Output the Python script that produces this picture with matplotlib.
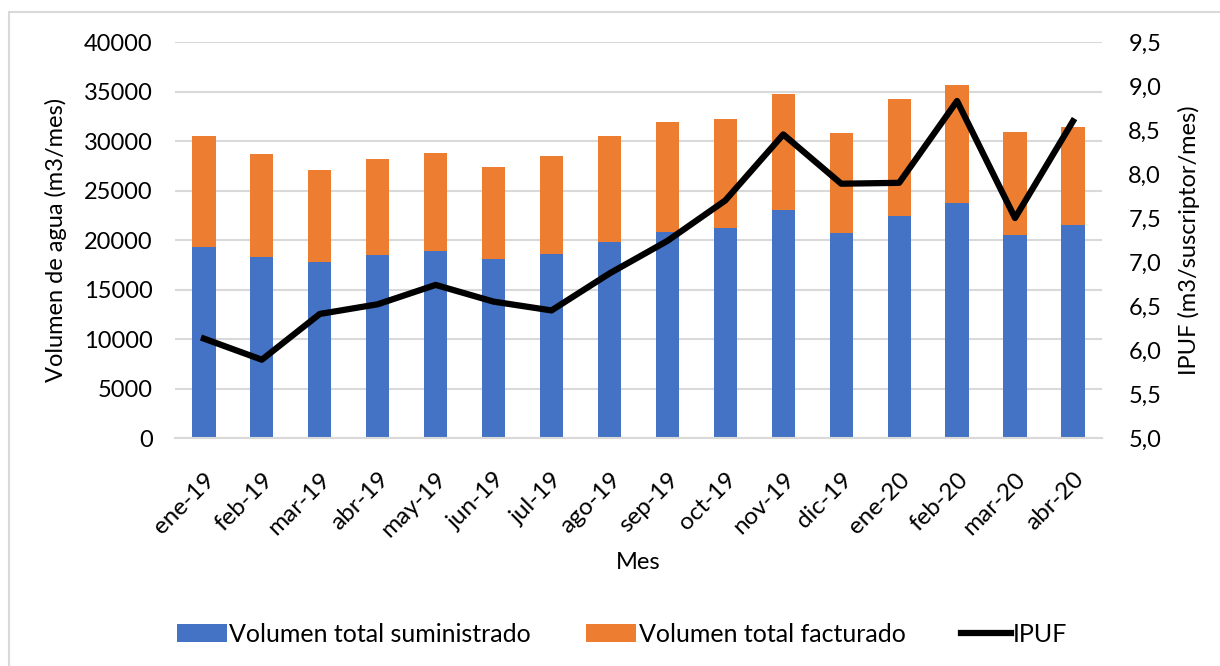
import matplotlib
matplotlib.use("Agg")
import matplotlib.pyplot as plt
from matplotlib.patches import Rectangle
from matplotlib.ticker import FuncFormatter
import numpy as np

plt.rcParams['font.family'] = ['Lato', 'DejaVu Sans']

# Data
meses = ["ene-19", "feb-19", "mar-19", "abr-19", "may-19", "jun-19", "jul-19", "ago-19",
         "sep-19", "oct-19", "nov-19", "dic-19", "ene-20", "feb-20", "mar-20", "abr-20"]
suministrado = [19330, 18250, 17800, 18500, 18900, 18100, 18600, 19800,
                20800, 21200, 23000, 20700, 22450, 23750, 20550, 21500]
facturado = [11170, 10400, 9300, 9700, 9850, 9300, 9900, 10700,
             11100, 11000, 11700, 10100, 11750, 11950, 10350, 9900]
ipuf = [6.13, 5.89, 6.41, 6.52, 6.74, 6.55, 6.45, 6.87,
        7.24, 7.70, 8.45, 7.89, 7.90, 8.83, 7.50, 8.60]

blue = "#4472C4"
orange = "#ED7D31"
grid_c = "#D9D9D9"
fs = 17

fig = plt.figure(figsize=(12.2, 6.66), dpi=100)
fig.patches.append(Rectangle((9 / 1220, -0.01), 1.0, 1 - 12 / 666 + 0.01,
                             transform=fig.transFigure, fill=False,
                             edgecolor=grid_c, linewidth=1.5))

ax = fig.add_axes([0.1434, 0.3423, 0.7598, 0.5946])
x = np.arange(len(meses))
b1 = ax.bar(x, suministrado, width=0.4, color=blue, label="Volumen total suministrado", zorder=2)
b2 = ax.bar(x, facturado, width=0.4, bottom=suministrado, color=orange,
            label="Volumen total facturado", zorder=2)
ax.set_ylim(0, 40000)
ax.set_xlim(-0.5, len(meses) - 0.5)
ax.set_yticks(np.arange(0, 40001, 5000))
ax.yaxis.grid(True, color=grid_c, linewidth=1.5, zorder=0)
ax.set_axisbelow(True)
for s in ["top", "right", "left"]:
    ax.spines[s].set_visible(False)
ax.spines["bottom"].set_color(grid_c)
ax.spines["bottom"].set_linewidth(1.5)
ax.tick_params(axis="both", length=0)
ax.tick_params(axis="y", pad=16, labelsize=fs)
ax.set_xticks(x)
ax.set_xticklabels(meses, rotation=45, ha="right", rotation_mode="anchor")
ax.tick_params(axis="x", pad=22, labelsize=17.5)
ax.set_ylabel("Volumen de agua (m3/mes)", fontsize=fs, labelpad=12)
ax.set_xlabel("Mes", fontsize=fs, labelpad=8)

ax2 = ax.twinx()
l1, = ax2.plot(x, ipuf, color="black", linewidth=4.5, label="IPUF", zorder=3)
ax2.set_ylim(5.0, 9.5)
ax2.set_yticks(np.arange(5.0, 9.51, 0.5))
ax2.yaxis.set_major_formatter(FuncFormatter(lambda v, p: f"{v:.1f}".replace(".", ",")))
for s in ax2.spines.values():
    s.set_visible(False)
ax2.tick_params(axis="y", length=0, labelsize=fs, pad=19)
ax2.set_ylabel("IPUF (m3/suscriptor/mes)", fontsize=fs, labelpad=12)

fig.legend(handles=[b1, b2, l1], loc="center", bbox_to_anchor=(0.51, 0.048),
           ncol=3, frameon=False, fontsize=18, handlelength=2.0, handleheight=0.7,
           columnspacing=2.2, handletextpad=0.1)

fig.savefig("out.png", dpi=100)
